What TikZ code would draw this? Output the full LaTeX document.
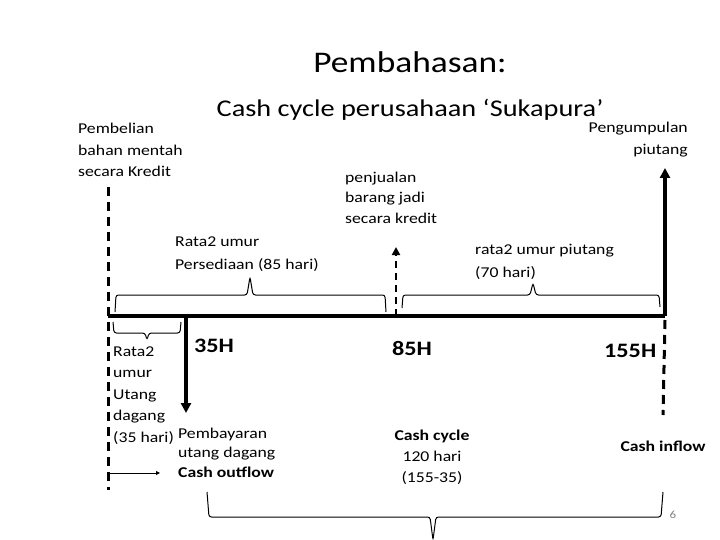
\documentclass[tikz,border=0pt]{standalone}
\usepackage{fontspec}
\setmainfont{Carlito}[FakeStretch=1.18]
\usetikzlibrary{arrows.meta, positioning}

\begin{document}
\begin{tikzpicture}[
  x=1pt, y=-1pt,
  lbl/.style={anchor=base west, align=left, inner sep=0pt, font=\fontsize{15}{21.5}\selectfont},
  day/.style={anchor=base west, inner sep=0pt, font=\fontsize{20.5}{24}\selectfont\bfseries},
  axis/.style={line width=4pt},
  flow/.style={line width=3.5pt, -{Triangle[length=10pt, width=10pt]}},
  dline/.style={line width=3pt, dash pattern=on 9pt off 6pt},
  brc/.style={line width=1pt, rounded corners=2.5pt}
]
\useasboundingbox (0,0) rectangle (720,540);

% Judul
\node[font=\fontsize{30}{36}\selectfont, anchor=base, inner sep=0pt] (title) at (410,73) {Pembahasan:};
\node[font=\fontsize{24}{28}\selectfont, anchor=base, inner sep=0pt] (sub) at (410,117) {Cash cycle perusahaan ‘Sukapura’};

% Keterangan atas (base = baris terakhir)
\node[lbl] (buy) at (78,177) {Pembelian\\bahan mentah\\secara Kredit};
\node[lbl, font=\fontsize{15}{22}\selectfont] (inv) at (175,269) {Rata2 umur\\Persediaan (85 hari)};
\node[lbl, font=\fontsize{15}{20}\selectfont] (sell) at (345,223) {penjualan\\barang jadi\\secara kredit};
\node[lbl, font=\fontsize{15}{23}\selectfont] (recv) at (475,277) {rata2 umur piutang\\(70 hari)};
\node[lbl, anchor=base east, align=right, font=\fontsize{15}{22}\selectfont] (collect) at (688,155) {Pengumpulan\\piutang};

% Titik waktu
\coordinate (t0) at (108,316);
\coordinate (t35) at (186,316);
\coordinate (t85) at (396,316);
\coordinate (t155) at (665,316);
\coordinate (buytop) at (108,187);
\coordinate (buybot) at (108,490);
\coordinate (paytip) at (186,413);
\coordinate (selltip) at (396,247);
\coordinate (colltip) at (665,168);
\coordinate (inflowtop) at (665,320);
\coordinate (inflowbot) at (663,415);
\coordinate (outL) at (110,473);
\coordinate (outR) at (160,473);

% Keterangan bawah
\node[day] (d35) at (194,352) {35H};
\node[day] (d85) at (392,355) {85H};
\node[day] (d155) at (604,357) {155H};
\node[lbl, font=\fontsize{15}{21.5}\selectfont] (pay) at (113,442) {Rata2\\umur\\Utang\\dagang\\(35 hari)};
\node[lbl, font=\fontsize{15}{19.5}\selectfont] (payout) at (178,477) {Pembayaran\\utang dagang\\\textbf{Cash outflow}};
\node[lbl, font=\fontsize{15}{21}\selectfont, align=center, anchor=base] (cycle) at (432,482) {\textbf{Cash cycle}\\120 hari\\(155-35)};
\node[lbl, anchor=base] (inflow) at (663,451) {\textbf{Cash inflow}};
\node[anchor=base, inner sep=0pt, font=\fontsize{11}{13}\selectfont, text=gray] (pg) at (673,518) {6};

% Garis waktu dan panah
\draw[dline] (buytop) -- (buybot);
\draw[axis] (t0) -- (t155);
\draw[flow] (t35) -- (paytip);
\draw[flow] (t155) -- (colltip);
\draw[line width=2.2pt, dash pattern=on 7pt off 5pt, -{Triangle[length=8pt, width=8pt]}] (t85) -- (selltip);
\draw[dline] (inflowtop) -- (inflowbot);
\draw[line width=1pt, -{Triangle[length=4pt, width=4pt]}] (outL) -- (outR);

% Kurung kurawal
\draw[brc] (115,312) -- (116,295) -- (247,295) -- (250,277) -- (253,295) -- (385,295) -- (386,312);
\draw[brc] (402,308) -- (403,295) -- (530,295) -- (533,283) -- (536,295) -- (659,295) -- (660,307);
\draw[brc] (113,322) -- (114,333) -- (145,333) -- (147,340) -- (149,333) -- (180,333) -- (181,322);
\draw[brc] (207,492) -- (209,517) -- (430,517) -- (433,540) -- (436,517) -- (661,517) -- (663,492);

\end{tikzpicture}
\end{document}
